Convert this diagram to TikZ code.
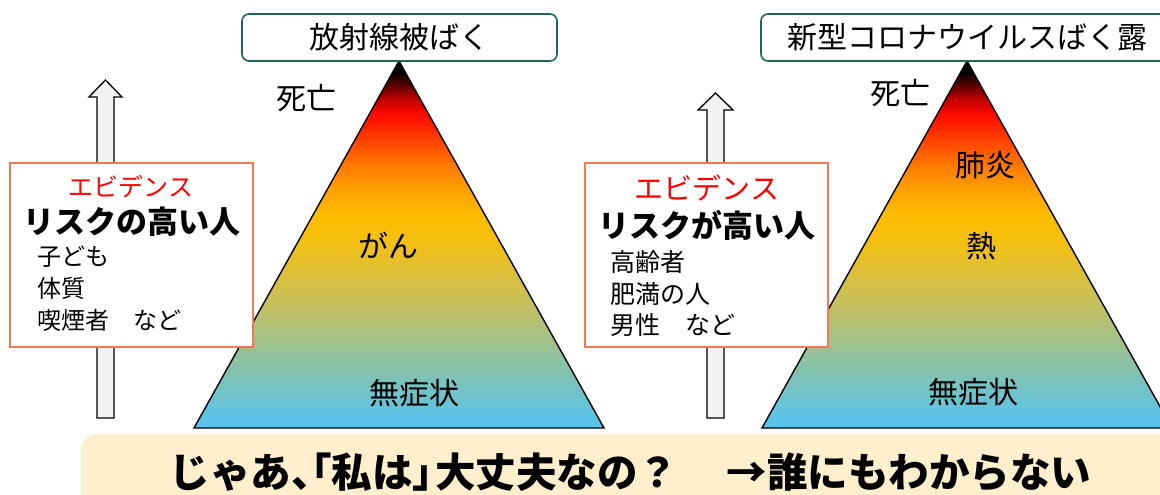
\documentclass[tikz,border=0pt]{standalone}
\usepackage{fontspec}
\setmainfont{Noto Sans CJK JP}
\definecolor{titlegreen}{HTML}{22654F}
\definecolor{evborder}{HTML}{F27A52}
\definecolor{arrowgray}{HTML}{F2F2F2}
\definecolor{cream}{HTML}{FFEFCC}
\definecolor{evred}{HTML}{FF0000}
\definecolor{ga}{HTML}{55C3F2}
\definecolor{gb}{HTML}{6EC3CC}
\definecolor{gc}{HTML}{84C2AE}
\definecolor{gd}{HTML}{A3C18A}
\definecolor{ge}{HTML}{C4C05E}
\definecolor{gf}{HTML}{E0BF35}
\definecolor{gg}{HTML}{F5C00E}
\definecolor{gh}{HTML}{FCBC00}
\definecolor{gi}{HTML}{FFA000}
\definecolor{gj}{HTML}{FF7800}
\definecolor{gk}{HTML}{FF4000}
\definecolor{gl}{HTML}{FF0A00}
\definecolor{gm}{HTML}{C00000}
\definecolor{gn}{HTML}{500000}
\definecolor{go}{HTML}{000000}
\pgfdeclareverticalshading{pyramid}{100bp}{%
color(0bp)=(ga); color(25bp)=(ga); color(29.5bp)=(gb); color(32.9bp)=(gc);
color(37bp)=(gd); color(41.8bp)=(ge); color(46.6bp)=(gf); color(50.7bp)=(gg);
color(54.1bp)=(gh); color(57.5bp)=(gi); color(60.9bp)=(gj); color(64.3bp)=(gk);
color(67.8bp)=(gl); color(69.8bp)=(gm); color(71.9bp)=(gn); color(73.6bp)=(go);
color(100bp)=(go)}
\begin{document}
\begin{tikzpicture}[x=1pt,y=-1pt,
  titlebox/.style={draw=titlegreen,line width=1.6pt,rounded corners=7pt,fill=white,
    inner sep=0pt,font=\fontsize{30}{34}\selectfont},
  evbox/.style={draw=evborder,line width=1.2pt,fill=white,inner sep=0pt,
    minimum height=184pt},
  evhead/.style={text=evred,inner sep=0pt},
  risk/.style={inner sep=0pt,font=\fontsize{31}{35}\selectfont\bfseries},
  item/.style={anchor=west,inner sep=0pt},
  lbl/.style={inner sep=0pt,font=\fontsize{30}{34}\selectfont},
  pyr/.style={draw=black,line width=1.4pt,shading=pyramid,line join=miter},
  blockarrow/.style={draw=black,line width=1.3pt,fill=arrowgray,line join=miter},
  banner/.style={fill=cream,rounded corners=16pt},
]
\useasboundingbox (0,0) rectangle (1160,495);
\clip (0,0) rectangle (1160,495);

% banner
\path[banner] (81,434) rectangle (1200,540);
\node[inner sep=0pt,font=\fontsize{40.5}{44}\selectfont\bfseries] (q) at (630.5,472)
  {じゃあ\makebox[0.5em][l]{、}\makebox[0.5em][r]{「}私は\makebox[0.55em][l]{」}大丈夫なの？\hspace{1.2em}→誰にもわからない};

% arrows
\path[blockarrow] (97,418) -- (97,97) -- (89,97) -- (105.5,80) -- (122,97) -- (114,97) -- (114,418) -- cycle;
\path[blockarrow] (707,418) -- (707,110) -- (698,110) -- (715.5,93) -- (733,110) -- (724,110) -- (724,418) -- cycle;

% triangles
\coordinate (t1top) at (399,61);
\coordinate (t1l) at (194,428);
\coordinate (t1r) at (604,428);
\coordinate (t2top) at (967,61);
\coordinate (t2l) at (762,428);
\coordinate (t2r) at (1172,428);
\path[pyr] (t1top) -- (t1l) -- (t1r) -- cycle;
\path[pyr] (t2top) -- (t2l) -- (t2r) -- cycle;

% title boxes
\node[titlebox,minimum width=315pt,minimum height=47pt] (title1) at (399.5,37.5) {放射線被ばく};
\node[titlebox,minimum width=412pt,minimum height=47pt] (title2) at (967,37.5) {新型コロナウイルスばく露};

% labels
\node[lbl] (death1) at (306,98) {死亡};
\node[lbl] (death2) at (900,93) {死亡};
\node[lbl] (gan) at (388,245) {がん};
\node[lbl] (asym1) at (414,393) {無症状};
\node[lbl] (pneu) at (985,165) {肺炎};
\node[lbl] (fever) at (981,246) {熱};
\node[lbl] (asym2) at (973,392) {無症状};

% evidence box 1
\node[evbox,minimum width=243pt] (ev1) at (131.5,255) {};
\node[evhead,font=\fontsize{25}{28}\selectfont] (ev1h) at (131,187) {エビデンス};
\node[risk] (ev1r) at (132,222) {リスクの高い人};
\node[item,font=\fontsize{24}{28}\selectfont] (ev1a) at (37,257) {子ども};
\node[item,font=\fontsize{24}{28}\selectfont] (ev1b) at (37,288) {体質};
\node[item,font=\fontsize{24}{28}\selectfont] (ev1c) at (37,320) {喫煙者　など};

% evidence box 2
\node[evbox,minimum width=243pt] (ev2) at (706.5,255) {};
\node[evhead,font=\fontsize{29}{32}\selectfont] (ev2h) at (707,188) {エビデンス};
\node[risk] (ev2r) at (707,225) {リスクが高い人};
\node[item,font=\fontsize{25}{28}\selectfont] (ev2a) at (610,262) {高齢者};
\node[item,font=\fontsize{25}{28}\selectfont] (ev2b) at (610,294) {肥満の人};
\node[item,font=\fontsize{25}{28}\selectfont] (ev2c) at (610,325) {男性　など};
\end{tikzpicture}
\end{document}
